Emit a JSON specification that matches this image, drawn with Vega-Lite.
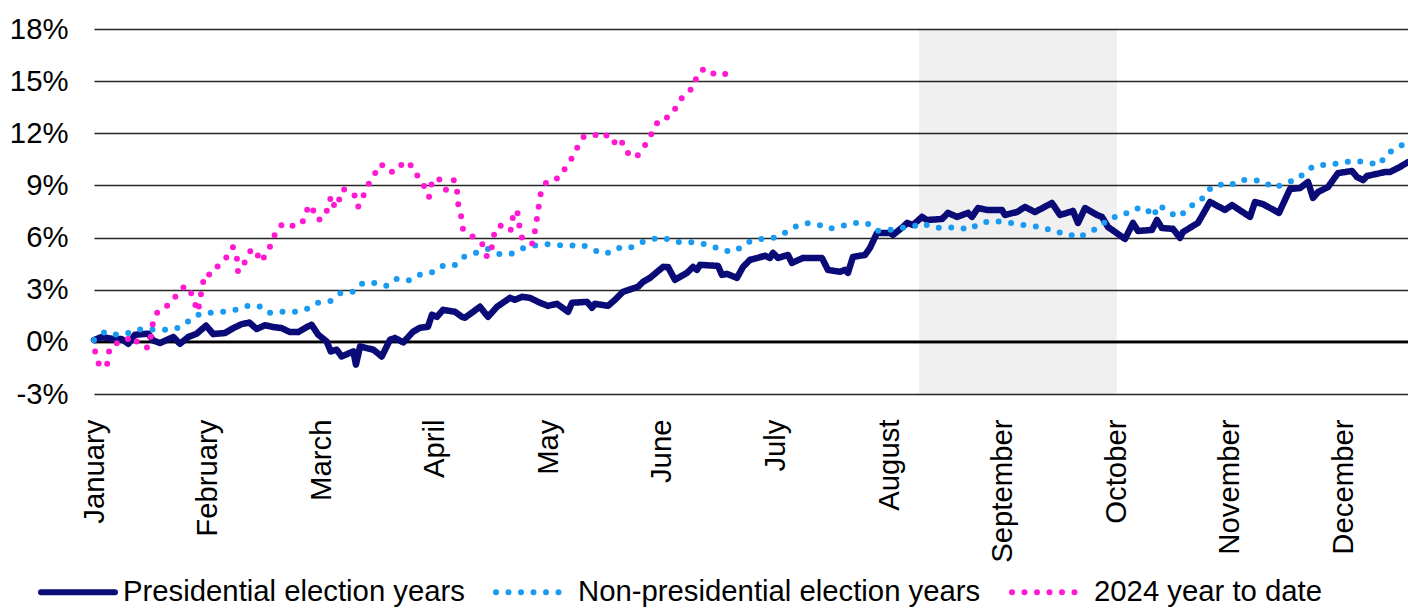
{
  "$schema": "https://vega.github.io/schema/vega-lite/v6.json",
  "width": 1314,
  "height": 365,
  "autosize": {"type": "none"},
  "padding": {"left": 94, "top": 29, "right": 0, "bottom": 214},
  "background": "white",
  "config": {
    "view": {"stroke": null},
    "font": "Liberation Sans",
    "legend": {
      "orient": "none",
      "legendX": -56,
      "legendY": 523,
      "direction": "horizontal",
      "symbolType": "stroke",
      "symbolSize": 5476,
      "symbolStrokeWidth": 6,
      "labelFont": "Liberation Sans",
      "labelFontSize": 29.3,
      "labelColor": "#000000",
      "labelOffset": 5,
      "labelLimit": 1000,
      "columnPadding": 19,
      "padding": 0
    }
  },
  "datasets": {
    "pts": [
      {"series": "Presidential election years", "t": 0, "r": 0.1},
      {"series": "Presidential election years", "t": 0.068, "r": 0.28},
      {"series": "Presidential election years", "t": 0.17, "r": 0.16},
      {"series": "Presidential election years", "t": 0.244, "r": 0.16},
      {"series": "Presidential election years", "t": 0.302, "r": -0.11},
      {"series": "Presidential election years", "t": 0.361, "r": 0.41},
      {"series": "Presidential election years", "t": 0.478, "r": 0.47},
      {"series": "Presidential election years", "t": 0.522, "r": 0.08},
      {"series": "Presidential election years", "t": 0.581, "r": -0.07},
      {"series": "Presidential election years", "t": 0.698, "r": 0.28},
      {"series": "Presidential election years", "t": 0.757, "r": -0.11},
      {"series": "Presidential election years", "t": 0.83, "r": 0.28},
      {"series": "Presidential election years", "t": 0.904, "r": 0.47},
      {"series": "Presidential election years", "t": 0.986, "r": 0.93},
      {"series": "Presidential election years", "t": 1.05, "r": 0.45},
      {"series": "Presidential election years", "t": 1.153, "r": 0.51},
      {"series": "Presidential election years", "t": 1.226, "r": 0.79},
      {"series": "Presidential election years", "t": 1.3, "r": 1.02},
      {"series": "Presidential election years", "t": 1.367, "r": 1.11},
      {"series": "Presidential election years", "t": 1.432, "r": 0.74},
      {"series": "Presidential election years", "t": 1.505, "r": 0.96},
      {"series": "Presidential election years", "t": 1.578, "r": 0.85},
      {"series": "Presidential election years", "t": 1.652, "r": 0.79},
      {"series": "Presidential election years", "t": 1.725, "r": 0.56},
      {"series": "Presidential election years", "t": 1.798, "r": 0.56},
      {"series": "Presidential election years", "t": 1.872, "r": 0.85},
      {"series": "Presidential election years", "t": 1.916, "r": 0.98},
      {"series": "Presidential election years", "t": 1.974, "r": 0.41},
      {"series": "Presidential election years", "t": 2.048, "r": 0.02},
      {"series": "Presidential election years", "t": 2.084, "r": -0.55},
      {"series": "Presidential election years", "t": 2.136, "r": -0.45},
      {"series": "Presidential election years", "t": 2.18, "r": -0.84},
      {"series": "Presidential election years", "t": 2.283, "r": -0.55},
      {"series": "Presidential election years", "t": 2.306, "r": -1.31},
      {"series": "Presidential election years", "t": 2.342, "r": -0.26},
      {"series": "Presidential election years", "t": 2.459, "r": -0.45},
      {"series": "Presidential election years", "t": 2.533, "r": -0.84},
      {"series": "Presidential election years", "t": 2.606, "r": 0.12},
      {"series": "Presidential election years", "t": 2.65, "r": 0.22},
      {"series": "Presidential election years", "t": 2.723, "r": -0.03},
      {"series": "Presidential election years", "t": 2.808, "r": 0.58},
      {"series": "Presidential election years", "t": 2.87, "r": 0.81},
      {"series": "Presidential election years", "t": 2.94, "r": 0.87},
      {"series": "Presidential election years", "t": 2.975, "r": 1.56},
      {"series": "Presidential election years", "t": 3.019, "r": 1.44},
      {"series": "Presidential election years", "t": 3.072, "r": 1.84},
      {"series": "Presidential election years", "t": 3.178, "r": 1.73},
      {"series": "Presidential election years", "t": 3.239, "r": 1.44},
      {"series": "Presidential election years", "t": 3.266, "r": 1.39},
      {"series": "Presidential election years", "t": 3.398, "r": 2.02},
      {"series": "Presidential election years", "t": 3.468, "r": 1.44},
      {"series": "Presidential election years", "t": 3.548, "r": 2.02},
      {"series": "Presidential election years", "t": 3.662, "r": 2.53},
      {"series": "Presidential election years", "t": 3.706, "r": 2.42},
      {"series": "Presidential election years", "t": 3.768, "r": 2.59},
      {"series": "Presidential election years", "t": 3.838, "r": 2.53},
      {"series": "Presidential election years", "t": 3.926, "r": 2.25},
      {"series": "Presidential election years", "t": 3.996, "r": 2.07},
      {"series": "Presidential election years", "t": 4.076, "r": 2.19},
      {"series": "Presidential election years", "t": 4.173, "r": 1.73},
      {"series": "Presidential election years", "t": 4.208, "r": 2.25},
      {"series": "Presidential election years", "t": 4.34, "r": 2.3},
      {"series": "Presidential election years", "t": 4.384, "r": 1.96},
      {"series": "Presidential election years", "t": 4.41, "r": 2.19},
      {"series": "Presidential election years", "t": 4.525, "r": 2.07},
      {"series": "Presidential election years", "t": 4.586, "r": 2.42},
      {"series": "Presidential election years", "t": 4.657, "r": 2.88},
      {"series": "Presidential election years", "t": 4.789, "r": 3.17},
      {"series": "Presidential election years", "t": 4.833, "r": 3.45},
      {"series": "Presidential election years", "t": 4.894, "r": 3.68},
      {"series": "Presidential election years", "t": 5.009, "r": 4.31},
      {"series": "Presidential election years", "t": 5.053, "r": 4.31},
      {"series": "Presidential election years", "t": 5.114, "r": 3.57},
      {"series": "Presidential election years", "t": 5.22, "r": 3.97},
      {"series": "Presidential election years", "t": 5.273, "r": 4.31},
      {"series": "Presidential election years", "t": 5.308, "r": 4.14},
      {"series": "Presidential election years", "t": 5.335, "r": 4.43},
      {"series": "Presidential election years", "t": 5.493, "r": 4.37},
      {"series": "Presidential election years", "t": 5.528, "r": 3.85},
      {"series": "Presidential election years", "t": 5.572, "r": 3.91},
      {"series": "Presidential election years", "t": 5.66, "r": 3.68},
      {"series": "Presidential election years", "t": 5.713, "r": 4.31},
      {"series": "Presidential election years", "t": 5.775, "r": 4.72},
      {"series": "Presidential election years", "t": 5.907, "r": 4.95},
      {"series": "Presidential election years", "t": 5.951, "r": 4.83},
      {"series": "Presidential election years", "t": 5.977, "r": 5.12},
      {"series": "Presidential election years", "t": 6.021, "r": 4.83},
      {"series": "Presidential election years", "t": 6.109, "r": 5.0},
      {"series": "Presidential election years", "t": 6.144, "r": 4.54},
      {"series": "Presidential election years", "t": 6.241, "r": 4.83},
      {"series": "Presidential election years", "t": 6.408, "r": 4.83},
      {"series": "Presidential election years", "t": 6.461, "r": 4.14},
      {"series": "Presidential election years", "t": 6.567, "r": 4.03},
      {"series": "Presidential election years", "t": 6.611, "r": 4.14},
      {"series": "Presidential election years", "t": 6.637, "r": 3.97},
      {"series": "Presidential election years", "t": 6.681, "r": 4.89},
      {"series": "Presidential election years", "t": 6.787, "r": 5.0},
      {"series": "Presidential election years", "t": 6.831, "r": 5.41},
      {"series": "Presidential election years", "t": 6.893, "r": 6.27},
      {"series": "Presidential election years", "t": 7.007, "r": 6.27},
      {"series": "Presidential election years", "t": 7.033, "r": 6.15},
      {"series": "Presidential election years", "t": 7.121, "r": 6.61},
      {"series": "Presidential election years", "t": 7.157, "r": 6.84},
      {"series": "Presidential election years", "t": 7.21, "r": 6.73},
      {"series": "Presidential election years", "t": 7.289, "r": 7.19},
      {"series": "Presidential election years", "t": 7.333, "r": 7.01},
      {"series": "Presidential election years", "t": 7.465, "r": 7.07},
      {"series": "Presidential election years", "t": 7.518, "r": 7.42},
      {"series": "Presidential election years", "t": 7.597, "r": 7.19},
      {"series": "Presidential election years", "t": 7.694, "r": 7.42},
      {"series": "Presidential election years", "t": 7.729, "r": 7.19},
      {"series": "Presidential election years", "t": 7.782, "r": 7.7},
      {"series": "Presidential election years", "t": 7.861, "r": 7.59},
      {"series": "Presidential election years", "t": 7.993, "r": 7.59},
      {"series": "Presidential election years", "t": 8.019, "r": 7.3},
      {"series": "Presidential election years", "t": 8.125, "r": 7.47},
      {"series": "Presidential election years", "t": 8.195, "r": 7.76},
      {"series": "Presidential election years", "t": 8.283, "r": 7.47},
      {"series": "Presidential election years", "t": 8.433, "r": 7.99},
      {"series": "Presidential election years", "t": 8.504, "r": 7.3},
      {"series": "Presidential election years", "t": 8.618, "r": 7.53},
      {"series": "Presidential election years", "t": 8.662, "r": 6.84},
      {"series": "Presidential election years", "t": 8.724, "r": 7.7},
      {"series": "Presidential election years", "t": 8.829, "r": 7.3},
      {"series": "Presidential election years", "t": 8.873, "r": 7.19},
      {"series": "Presidential election years", "t": 8.926, "r": 6.61},
      {"series": "Presidential election years", "t": 9.076, "r": 5.92},
      {"series": "Presidential election years", "t": 9.146, "r": 6.84},
      {"series": "Presidential election years", "t": 9.19, "r": 6.38},
      {"series": "Presidential election years", "t": 9.313, "r": 6.44},
      {"series": "Presidential election years", "t": 9.357, "r": 7.01},
      {"series": "Presidential election years", "t": 9.401, "r": 6.55},
      {"series": "Presidential election years", "t": 9.498, "r": 6.5},
      {"series": "Presidential election years", "t": 9.56, "r": 5.98},
      {"series": "Presidential election years", "t": 9.586, "r": 6.32},
      {"series": "Presidential election years", "t": 9.718, "r": 6.84},
      {"series": "Presidential election years", "t": 9.824, "r": 8.05},
      {"series": "Presidential election years", "t": 9.956, "r": 7.59},
      {"series": "Presidential election years", "t": 10.018, "r": 7.87},
      {"series": "Presidential election years", "t": 10.176, "r": 7.19},
      {"series": "Presidential election years", "t": 10.22, "r": 8.05},
      {"series": "Presidential election years", "t": 10.29, "r": 7.93},
      {"series": "Presidential election years", "t": 10.431, "r": 7.42},
      {"series": "Presidential election years", "t": 10.528, "r": 8.79},
      {"series": "Presidential election years", "t": 10.616, "r": 8.85},
      {"series": "Presidential election years", "t": 10.687, "r": 9.2},
      {"series": "Presidential election years", "t": 10.731, "r": 8.28},
      {"series": "Presidential election years", "t": 10.775, "r": 8.62},
      {"series": "Presidential election years", "t": 10.863, "r": 8.91},
      {"series": "Presidential election years", "t": 10.951, "r": 9.71},
      {"series": "Presidential election years", "t": 11.074, "r": 9.83},
      {"series": "Presidential election years", "t": 11.118, "r": 9.48},
      {"series": "Presidential election years", "t": 11.171, "r": 9.31},
      {"series": "Presidential election years", "t": 11.206, "r": 9.54},
      {"series": "Presidential election years", "t": 11.364, "r": 9.77},
      {"series": "Presidential election years", "t": 11.408, "r": 9.77},
      {"series": "Presidential election years", "t": 11.496, "r": 10.06},
      {"series": "Presidential election years", "t": 11.567, "r": 10.34},

      {"series": "Non-presidential election years", "t": 0, "r": 0.1},
      {"series": "Non-presidential election years", "t": 0.097, "r": 0.58},
      {"series": "Non-presidential election years", "t": 0.202, "r": 0.41},
      {"series": "Non-presidential election years", "t": 0.317, "r": 0.52},
      {"series": "Non-presidential election years", "t": 0.423, "r": 0.75},
      {"series": "Non-presidential election years", "t": 0.528, "r": 0.7},
      {"series": "Non-presidential election years", "t": 0.643, "r": 0.7},
      {"series": "Non-presidential election years", "t": 0.739, "r": 0.81},
      {"series": "Non-presidential election years", "t": 0.836, "r": 1.21},
      {"series": "Non-presidential election years", "t": 0.933, "r": 1.62},
      {"series": "Non-presidential election years", "t": 1.03, "r": 1.67},
      {"series": "Non-presidential election years", "t": 1.136, "r": 1.73},
      {"series": "Non-presidential election years", "t": 1.25, "r": 1.85},
      {"series": "Non-presidential election years", "t": 1.356, "r": 2.07},
      {"series": "Non-presidential election years", "t": 1.452, "r": 2.07},
      {"series": "Non-presidential election years", "t": 1.532, "r": 1.67},
      {"series": "Non-presidential election years", "t": 1.655, "r": 1.73},
      {"series": "Non-presidential election years", "t": 1.769, "r": 1.73},
      {"series": "Non-presidential election years", "t": 1.875, "r": 1.9},
      {"series": "Non-presidential election years", "t": 1.972, "r": 2.25},
      {"series": "Non-presidential election years", "t": 2.086, "r": 2.36},
      {"series": "Non-presidential election years", "t": 2.174, "r": 2.82},
      {"series": "Non-presidential election years", "t": 2.28, "r": 2.88},
      {"series": "Non-presidential election years", "t": 2.368, "r": 3.39},
      {"series": "Non-presidential election years", "t": 2.474, "r": 3.39},
      {"series": "Non-presidential election years", "t": 2.57, "r": 3.22},
      {"series": "Non-presidential election years", "t": 2.658, "r": 3.62},
      {"series": "Non-presidential election years", "t": 2.764, "r": 3.51},
      {"series": "Non-presidential election years", "t": 2.852, "r": 3.85},
      {"series": "Non-presidential election years", "t": 2.967, "r": 3.97},
      {"series": "Non-presidential election years", "t": 3.063, "r": 4.37},
      {"series": "Non-presidential election years", "t": 3.169, "r": 4.37},
      {"series": "Non-presidential election years", "t": 3.257, "r": 4.89},
      {"series": "Non-presidential election years", "t": 3.363, "r": 5.12},
      {"series": "Non-presidential election years", "t": 3.468, "r": 5.35},
      {"series": "Non-presidential election years", "t": 3.565, "r": 5.06},
      {"series": "Non-presidential election years", "t": 3.671, "r": 5.06},
      {"series": "Non-presidential election years", "t": 3.759, "r": 5.35},
      {"series": "Non-presidential election years", "t": 3.864, "r": 5.52},
      {"series": "Non-presidential election years", "t": 3.961, "r": 5.63},
      {"series": "Non-presidential election years", "t": 4.076, "r": 5.58},
      {"series": "Non-presidential election years", "t": 4.173, "r": 5.52},
      {"series": "Non-presidential election years", "t": 4.296, "r": 5.58},
      {"series": "Non-presidential election years", "t": 4.393, "r": 5.29},
      {"series": "Non-presidential election years", "t": 4.507, "r": 5.06},
      {"series": "Non-presidential election years", "t": 4.604, "r": 5.41},
      {"series": "Non-presidential election years", "t": 4.701, "r": 5.35},
      {"series": "Non-presidential election years", "t": 4.806, "r": 5.69},
      {"series": "Non-presidential election years", "t": 4.912, "r": 5.92},
      {"series": "Non-presidential election years", "t": 5.018, "r": 5.98},
      {"series": "Non-presidential election years", "t": 5.106, "r": 5.75},
      {"series": "Non-presidential election years", "t": 5.22, "r": 5.75},
      {"series": "Non-presidential election years", "t": 5.326, "r": 5.69},
      {"series": "Non-presidential election years", "t": 5.44, "r": 5.52},
      {"series": "Non-presidential election years", "t": 5.537, "r": 5.23},
      {"series": "Non-presidential election years", "t": 5.651, "r": 5.23},
      {"series": "Non-presidential election years", "t": 5.739, "r": 5.69},
      {"series": "Non-presidential election years", "t": 5.845, "r": 5.92},
      {"series": "Non-presidential election years", "t": 5.96, "r": 5.92},
      {"series": "Non-presidential election years", "t": 6.065, "r": 6.21},
      {"series": "Non-presidential election years", "t": 6.162, "r": 6.61},
      {"series": "Non-presidential election years", "t": 6.268, "r": 6.84},
      {"series": "Non-presidential election years", "t": 6.364, "r": 6.78},
      {"series": "Non-presidential election years", "t": 6.47, "r": 6.5},
      {"series": "Non-presidential election years", "t": 6.585, "r": 6.67},
      {"series": "Non-presidential election years", "t": 6.69, "r": 6.84},
      {"series": "Non-presidential election years", "t": 6.805, "r": 6.84},
      {"series": "Non-presidential election years", "t": 6.893, "r": 6.38},
      {"series": "Non-presidential election years", "t": 7.007, "r": 6.44},
      {"series": "Non-presidential election years", "t": 7.095, "r": 6.55},
      {"series": "Non-presidential election years", "t": 7.201, "r": 6.61},
      {"series": "Non-presidential election years", "t": 7.289, "r": 6.84},
      {"series": "Non-presidential election years", "t": 7.368, "r": 6.61},
      {"series": "Non-presidential election years", "t": 7.474, "r": 6.55},
      {"series": "Non-presidential election years", "t": 7.597, "r": 6.61},
      {"series": "Non-presidential election years", "t": 7.702, "r": 6.44},
      {"series": "Non-presidential election years", "t": 7.799, "r": 6.84},
      {"series": "Non-presidential election years", "t": 7.905, "r": 6.96},
      {"series": "Non-presidential election years", "t": 8.011, "r": 6.9},
      {"series": "Non-presidential election years", "t": 8.125, "r": 6.78},
      {"series": "Non-presidential election years", "t": 8.239, "r": 6.67},
      {"series": "Non-presidential election years", "t": 8.354, "r": 6.61},
      {"series": "Non-presidential election years", "t": 8.451, "r": 6.32},
      {"series": "Non-presidential election years", "t": 8.556, "r": 6.27},
      {"series": "Non-presidential election years", "t": 8.662, "r": 5.98},
      {"series": "Non-presidential election years", "t": 8.759, "r": 6.32},
      {"series": "Non-presidential election years", "t": 8.856, "r": 6.61},
      {"series": "Non-presidential election years", "t": 8.935, "r": 7.13},
      {"series": "Non-presidential election years", "t": 9.049, "r": 7.24},
      {"series": "Non-presidential election years", "t": 9.146, "r": 7.65},
      {"series": "Non-presidential election years", "t": 9.261, "r": 7.7},
      {"series": "Non-presidential election years", "t": 9.322, "r": 7.19},
      {"series": "Non-presidential election years", "t": 9.375, "r": 7.88},
      {"series": "Non-presidential election years", "t": 9.463, "r": 7.42},
      {"series": "Non-presidential election years", "t": 9.56, "r": 7.19},
      {"series": "Non-presidential election years", "t": 9.63, "r": 7.76},
      {"series": "Non-presidential election years", "t": 9.736, "r": 8.05},
      {"series": "Non-presidential election years", "t": 9.798, "r": 8.68},
      {"series": "Non-presidential election years", "t": 9.886, "r": 9.08},
      {"series": "Non-presidential election years", "t": 9.991, "r": 8.97},
      {"series": "Non-presidential election years", "t": 10.088, "r": 9.31},
      {"series": "Non-presidential election years", "t": 10.194, "r": 9.31},
      {"series": "Non-presidential election years", "t": 10.29, "r": 9.25},
      {"series": "Non-presidential election years", "t": 10.387, "r": 8.85},
      {"series": "Non-presidential election years", "t": 10.493, "r": 9.14},
      {"series": "Non-presidential election years", "t": 10.599, "r": 9.37},
      {"series": "Non-presidential election years", "t": 10.678, "r": 9.89},
      {"series": "Non-presidential election years", "t": 10.766, "r": 10.17},
      {"series": "Non-presidential election years", "t": 10.88, "r": 10.17},
      {"series": "Non-presidential election years", "t": 10.986, "r": 10.34},
      {"series": "Non-presidential election years", "t": 11.092, "r": 10.4},
      {"series": "Non-presidential election years", "t": 11.206, "r": 10.34},
      {"series": "Non-presidential election years", "t": 11.312, "r": 10.17},
      {"series": "Non-presidential election years", "t": 11.382, "r": 10.81},
      {"series": "Non-presidential election years", "t": 11.479, "r": 11.21},
      {"series": "Non-presidential election years", "t": 11.567, "r": 11.5},

      {"series": "2024 year to date", "t": 0.01, "r": -0.55},
      {"series": "2024 year to date", "t": 0.044, "r": -1.31},
      {"series": "2024 year to date", "t": 0.114, "r": -1.43},
      {"series": "2024 year to date", "t": 0.123, "r": -0.68},
      {"series": "2024 year to date", "t": 0.167, "r": -0.11},
      {"series": "2024 year to date", "t": 0.255, "r": -0.05},
      {"series": "2024 year to date", "t": 0.335, "r": 0.35},
      {"series": "2024 year to date", "t": 0.405, "r": -0.22},
      {"series": "2024 year to date", "t": 0.475, "r": -0.34},
      {"series": "2024 year to date", "t": 0.502, "r": 0.35},
      {"series": "2024 year to date", "t": 0.519, "r": 1.1},
      {"series": "2024 year to date", "t": 0.563, "r": 1.79},
      {"series": "2024 year to date", "t": 0.66, "r": 2.13},
      {"series": "2024 year to date", "t": 0.722, "r": 2.65},
      {"series": "2024 year to date", "t": 0.775, "r": 3.11},
      {"series": "2024 year to date", "t": 0.836, "r": 3.17},
      {"series": "2024 year to date", "t": 0.871, "r": 2.48},
      {"series": "2024 year to date", "t": 0.915, "r": 1.73},
      {"series": "2024 year to date", "t": 0.933, "r": 2.36},
      {"series": "2024 year to date", "t": 0.951, "r": 3.17},
      {"series": "2024 year to date", "t": 0.977, "r": 3.91},
      {"series": "2024 year to date", "t": 1.03, "r": 3.85},
      {"series": "2024 year to date", "t": 1.1, "r": 4.43},
      {"series": "2024 year to date", "t": 1.18, "r": 4.95},
      {"series": "2024 year to date", "t": 1.224, "r": 5.46},
      {"series": "2024 year to date", "t": 1.259, "r": 4.77},
      {"series": "2024 year to date", "t": 1.268, "r": 4.02},
      {"series": "2024 year to date", "t": 1.329, "r": 4.6},
      {"series": "2024 year to date", "t": 1.382, "r": 5.29},
      {"series": "2024 year to date", "t": 1.426, "r": 5.29},
      {"series": "2024 year to date", "t": 1.461, "r": 4.6},
      {"series": "2024 year to date", "t": 1.523, "r": 5.06},
      {"series": "2024 year to date", "t": 1.567, "r": 5.75},
      {"series": "2024 year to date", "t": 1.611, "r": 6.5},
      {"series": "2024 year to date", "t": 1.673, "r": 6.84},
      {"series": "2024 year to date", "t": 1.743, "r": 6.67},
      {"series": "2024 year to date", "t": 1.831, "r": 6.78},
      {"series": "2024 year to date", "t": 1.866, "r": 7.53},
      {"series": "2024 year to date", "t": 1.919, "r": 7.88},
      {"series": "2024 year to date", "t": 1.945, "r": 7.13},
      {"series": "2024 year to date", "t": 1.998, "r": 7.01},
      {"series": "2024 year to date", "t": 2.06, "r": 7.65},
      {"series": "2024 year to date", "t": 2.086, "r": 8.39},
      {"series": "2024 year to date", "t": 2.121, "r": 7.7},
      {"series": "2024 year to date", "t": 2.157, "r": 8.16},
      {"series": "2024 year to date", "t": 2.192, "r": 8.79},
      {"series": "2024 year to date", "t": 2.289, "r": 8.51},
      {"series": "2024 year to date", "t": 2.324, "r": 7.76},
      {"series": "2024 year to date", "t": 2.359, "r": 8.22},
      {"series": "2024 year to date", "t": 2.403, "r": 8.91},
      {"series": "2024 year to date", "t": 2.465, "r": 9.6},
      {"series": "2024 year to date", "t": 2.526, "r": 10.23},
      {"series": "2024 year to date", "t": 2.597, "r": 9.77},
      {"series": "2024 year to date", "t": 2.667, "r": 9.83},
      {"series": "2024 year to date", "t": 2.729, "r": 10.4},
      {"series": "2024 year to date", "t": 2.799, "r": 10.12},
      {"series": "2024 year to date", "t": 2.843, "r": 9.6},
      {"series": "2024 year to date", "t": 2.896, "r": 9.08},
      {"series": "2024 year to date", "t": 2.949, "r": 8.33},
      {"series": "2024 year to date", "t": 2.967, "r": 9.02},
      {"series": "2024 year to date", "t": 3.019, "r": 9.48},
      {"series": "2024 year to date", "t": 3.063, "r": 9.2},
      {"series": "2024 year to date", "t": 3.099, "r": 8.74},
      {"series": "2024 year to date", "t": 3.169, "r": 9.31},
      {"series": "2024 year to date", "t": 3.195, "r": 8.79},
      {"series": "2024 year to date", "t": 3.204, "r": 7.99},
      {"series": "2024 year to date", "t": 3.231, "r": 7.24},
      {"series": "2024 year to date", "t": 3.248, "r": 6.5},
      {"series": "2024 year to date", "t": 3.336, "r": 6.04},
      {"series": "2024 year to date", "t": 3.424, "r": 5.58},
      {"series": "2024 year to date", "t": 3.46, "r": 4.89},
      {"series": "2024 year to date", "t": 3.486, "r": 5.0},
      {"series": "2024 year to date", "t": 3.512, "r": 5.75},
      {"series": "2024 year to date", "t": 3.53, "r": 6.5},
      {"series": "2024 year to date", "t": 3.609, "r": 6.78},
      {"series": "2024 year to date", "t": 3.671, "r": 6.44},
      {"series": "2024 year to date", "t": 3.688, "r": 7.19},
      {"series": "2024 year to date", "t": 3.724, "r": 7.59},
      {"series": "2024 year to date", "t": 3.741, "r": 6.84},
      {"series": "2024 year to date", "t": 3.759, "r": 6.04},
      {"series": "2024 year to date", "t": 3.856, "r": 5.63},
      {"series": "2024 year to date", "t": 3.882, "r": 6.38},
      {"series": "2024 year to date", "t": 3.9, "r": 7.13},
      {"series": "2024 year to date", "t": 3.917, "r": 7.88},
      {"series": "2024 year to date", "t": 3.935, "r": 8.62},
      {"series": "2024 year to date", "t": 3.988, "r": 9.25},
      {"series": "2024 year to date", "t": 4.093, "r": 9.43},
      {"series": "2024 year to date", "t": 4.155, "r": 10.06},
      {"series": "2024 year to date", "t": 4.208, "r": 10.58},
      {"series": "2024 year to date", "t": 4.261, "r": 11.26},
      {"series": "2024 year to date", "t": 4.313, "r": 11.83},
      {"series": "2024 year to date", "t": 4.401, "r": 11.89},
      {"series": "2024 year to date", "t": 4.498, "r": 12.01},
      {"series": "2024 year to date", "t": 4.551, "r": 11.43},
      {"series": "2024 year to date", "t": 4.586, "r": 11.49},
      {"series": "2024 year to date", "t": 4.639, "r": 11.72},
      {"series": "2024 year to date", "t": 4.665, "r": 11.03},
      {"series": "2024 year to date", "t": 4.762, "r": 10.58},
      {"series": "2024 year to date", "t": 4.806, "r": 10.86},
      {"series": "2024 year to date", "t": 4.868, "r": 11.49},
      {"series": "2024 year to date", "t": 4.921, "r": 12.13},
      {"series": "2024 year to date", "t": 4.974, "r": 12.81},
      {"series": "2024 year to date", "t": 5.062, "r": 12.93},
      {"series": "2024 year to date", "t": 5.132, "r": 13.56},
      {"series": "2024 year to date", "t": 5.194, "r": 14.25},
      {"series": "2024 year to date", "t": 5.282, "r": 14.65},
      {"series": "2024 year to date", "t": 5.308, "r": 15.4},
      {"series": "2024 year to date", "t": 5.379, "r": 15.74},
      {"series": "2024 year to date", "t": 5.475, "r": 15.34},
      {"series": "2024 year to date", "t": 5.528, "r": 15.34},
      {"series": "2024 year to date", "t": 5.625, "r": 15.57}
    ]
  },
  "encoding": {
    "x": {
      "field": "t",
      "type": "quantitative",
      "scale": {"domain": [0, 11.567], "nice": false, "zero": false},
      "axis": {
        "title": null,
        "values": [0, 1, 2, 3, 4, 5, 6, 7, 8, 9, 10, 11],
        "labelExpr": "['January','February','March','April','May','June','July','August','September','October','November','December'][datum.value]",
        "grid": false,
        "domain": false,
        "ticks": false,
        "tickSize": 0,
        "labelAngle": 270,
        "labelAlign": "right",
        "labelBaseline": "middle",
        "labelPadding": 25,
        "labelFont": "Liberation Sans",
        "labelFontSize": 29.3,
        "labelColor": "#000000",
        "labelFlush": false,
        "labelOverlap": false,
        "labelBound": false
      }
    },
    "y": {
      "field": "r",
      "type": "quantitative",
      "scale": {"domain": [-3, 18], "nice": false, "zero": false},
      "axis": {
        "title": null,
        "values": [-3, 0, 3, 6, 9, 12, 15, 18],
        "labelExpr": "datum.value + '%'",
        "grid": true,
        "gridColor": "#262626",
        "gridWidth": 1.3,
        "domain": false,
        "ticks": false,
        "tickSize": 0,
        "labelPadding": 26,
        "labelFont": "Liberation Sans",
        "labelFontSize": 29.3,
        "labelColor": "#000000"
      }
    }
  },
  "layer": [
    {
      "data": {"values": [{"t": 7.262, "t2": 9.005, "r": 18, "r2": -3}]},
      "mark": {"type": "rect", "fill": "#000000", "fillOpacity": 0.06},
      "encoding": {"x2": {"field": "t2"}, "y2": {"field": "r2"}}
    },
    {
      "data": {"values": [{"t": 0, "t2": 11.567, "r": 0}]},
      "mark": {"type": "rule", "color": "#000000", "strokeWidth": 2.6},
      "encoding": {"x2": {"field": "t2"}}
    },
    {
      "data": {"name": "pts"},
      "transform": [{"filter": "datum.series === 'Presidential election years'"}],
      "mark": {"type": "line", "strokeWidth": 6.5, "strokeCap": "round", "strokeJoin": "round"},
      "encoding": {
        "color": {
          "field": "series", "type": "nominal", "title": null,
          "scale": {"domain": ["Presidential election years", "Non-presidential election years", "2024 year to date"], "range": ["#0b0b78", "#1a9af0", "#ff1ad2"]},
          "legend": {"title": null, "encode": {"symbols": {"update": {"strokeCap": {"value": "round"}}}}}
        },
        "strokeDash": {
          "field": "series", "type": "nominal", "title": null,
          "scale": {"domain": ["Presidential election years", "Non-presidential election years", "2024 year to date"], "range": [[1, 0], [0, 12.5], [0, 12.5]]},
          "legend": {"title": null}
        }
      }
    },
    {
      "data": {"name": "pts"},
      "transform": [{"filter": "datum.series === 'Non-presidential election years'"}],
      "mark": {"type": "line", "strokeWidth": 6, "strokeCap": "round", "strokeJoin": "round"},
      "encoding": {
        "color": {
          "field": "series", "type": "nominal", "title": null,
          "scale": {"domain": ["Presidential election years", "Non-presidential election years", "2024 year to date"], "range": ["#0b0b78", "#1a9af0", "#ff1ad2"]},
          "legend": {"title": null, "encode": {"symbols": {"update": {"strokeCap": {"value": "round"}}}}}
        },
        "strokeDash": {
          "field": "series", "type": "nominal", "title": null,
          "scale": {"domain": ["Presidential election years", "Non-presidential election years", "2024 year to date"], "range": [[1, 0], [0, 12.5], [0, 12.5]]},
          "legend": {"title": null}
        }
      }
    },
    {
      "data": {"name": "pts"},
      "transform": [{"filter": "datum.series === '2024 year to date'"}],
      "mark": {"type": "line", "strokeWidth": 6, "strokeCap": "round", "strokeJoin": "round"},
      "encoding": {
        "color": {
          "field": "series", "type": "nominal", "title": null,
          "scale": {"domain": ["Presidential election years", "Non-presidential election years", "2024 year to date"], "range": ["#0b0b78", "#1a9af0", "#ff1ad2"]},
          "legend": {"title": null, "encode": {"symbols": {"update": {"strokeCap": {"value": "round"}}}}}
        },
        "strokeDash": {
          "field": "series", "type": "nominal", "title": null,
          "scale": {"domain": ["Presidential election years", "Non-presidential election years", "2024 year to date"], "range": [[1, 0], [0, 12.5], [0, 12.5]]},
          "legend": {"title": null}
        }
      }
    }
  ]
}
